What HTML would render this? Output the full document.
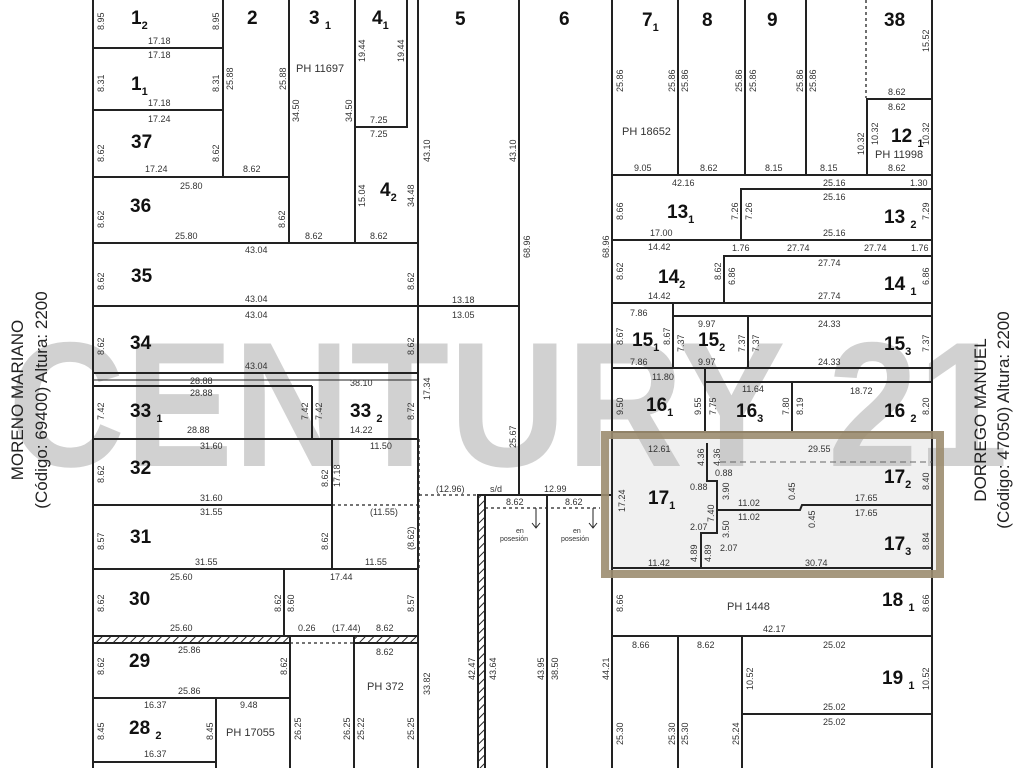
<!DOCTYPE html>
<html><head><meta charset="utf-8"><style>
html,body{margin:0;padding:0;background:#fff;}
svg{display:block;}
.d{font:9px "Liberation Sans",sans-serif;fill:#333;}
.n{font:bold 19px "Liberation Sans",sans-serif;fill:#111;}
.s{font-size:11px;}
.p{font:11px "Liberation Sans",sans-serif;fill:#333;}
line,polyline,rect{stroke:#222;stroke-width:2;fill:none;}
.dt{stroke-dasharray:3 3;stroke-width:1.3;}
</style></head><body>
<svg width="1024" height="768" viewBox="0 0 1024 768" xmlns="http://www.w3.org/2000/svg">
<defs><pattern id="h" width="6" height="6" patternUnits="userSpaceOnUse" patternTransform="rotate(45)"><rect width="6" height="6" style="fill:#fff;stroke:none"/><line x1="0" y1="0" x2="0" y2="6" stroke="#222" stroke-width="2"/></pattern></defs>
<rect x="0" y="0" width="1024" height="768" style="fill:#fff;stroke:none"/>
<!-- highlight fill -->
<rect x="606" y="436" width="334" height="137" style="fill:#f0f0f0;stroke:none"/>
<!-- watermark -->
<text x="8" y="466" textLength="1000" lengthAdjust="spacingAndGlyphs" style="font:bold 178px 'Liberation Sans',sans-serif;fill:#b4b4b4;opacity:0.6">CENTURY 21</text>
<!-- LEFT BLOCK -->
<line x1="93" y1="0" x2="93" y2="768"/>
<line x1="418" y1="0" x2="418" y2="768"/>
<line x1="93" y1="48" x2="223" y2="48"/>
<line x1="93" y1="110" x2="223" y2="110"/>
<line x1="93" y1="177" x2="289" y2="177"/>
<line x1="223" y1="0" x2="223" y2="177"/>
<line x1="289" y1="0" x2="289" y2="243"/>
<line x1="355" y1="0" x2="355" y2="243"/>
<polyline points="355,127 407,127 407,0"/>
<line x1="93" y1="243" x2="418" y2="243"/>
<line x1="93" y1="306" x2="519" y2="306"/>
<line x1="93" y1="373" x2="418" y2="373"/>
<line x1="93" y1="380" x2="418" y2="380" style="stroke-width:1"/>
<line x1="93" y1="386" x2="312" y2="386"/>
<line x1="312" y1="386" x2="312" y2="439"/>
<line x1="93" y1="439" x2="418" y2="439"/>
<line x1="332" y1="439" x2="332" y2="569"/>
<line x1="93" y1="505" x2="332" y2="505"/>
<line class="dt" x1="332" y1="505" x2="418" y2="505"/>
<line class="dt" x1="419" y1="439" x2="419" y2="569"/>
<line class="dt" x1="419" y1="495" x2="478" y2="495"/>
<line x1="93" y1="569" x2="418" y2="569"/>
<line x1="284" y1="569" x2="284" y2="636"/>
<line x1="93" y1="636" x2="418" y2="636"/>
<rect x="93" y="636" width="197" height="7" style="fill:url(#h)"/>
<rect x="354" y="636" width="64" height="7" style="fill:url(#h)"/>
<line class="dt" x1="290" y1="643" x2="354" y2="643"/>
<line x1="290" y1="636" x2="290" y2="768"/>
<line x1="354" y1="636" x2="354" y2="768"/>
<line x1="93" y1="698" x2="290" y2="698"/>
<line x1="216" y1="698" x2="216" y2="768"/>
<line x1="93" y1="762" x2="216" y2="762"/>
<!-- MIDDLE -->
<line x1="519" y1="0" x2="519" y2="495"/>
<line x1="478" y1="495" x2="612" y2="495"/>
<rect x="478" y="495" width="7" height="280" style="fill:url(#h)"/>
<line x1="547" y1="495" x2="547" y2="768"/>
<line class="dt" x1="485" y1="508" x2="600" y2="508"/>
<line x1="536" y1="508" x2="536" y2="528" style="stroke-width:1"/><polyline points="532,523 536,528 540,523" style="stroke-width:1"/>
<line x1="593" y1="508" x2="593" y2="528" style="stroke-width:1"/><polyline points="589,523 593,528 597,523" style="stroke-width:1"/>
<!-- RIGHT BLOCK -->
<line x1="612" y1="0" x2="612" y2="768"/>
<line x1="932" y1="0" x2="932" y2="768"/>
<line x1="678" y1="0" x2="678" y2="175"/>
<line x1="745" y1="0" x2="745" y2="175"/>
<line x1="806" y1="0" x2="806" y2="175"/>
<line class="dt" x1="866" y1="0" x2="866" y2="98"/>
<polyline points="867,175 867,99 932,99"/>
<line x1="612" y1="175" x2="932" y2="175"/>
<polyline points="741,240 741,189 932,189"/>
<line x1="612" y1="240" x2="932" y2="240"/>
<polyline points="724,303 724,256 932,256"/>
<line x1="612" y1="303" x2="932" y2="303"/>
<line x1="673" y1="303" x2="673" y2="368"/>
<line x1="673" y1="316" x2="932" y2="316"/>
<line x1="748" y1="316" x2="748" y2="368"/>
<line x1="612" y1="368" x2="932" y2="368"/>
<line x1="705" y1="368" x2="705" y2="432"/>
<line x1="705" y1="382" x2="932" y2="382"/>
<line x1="792" y1="382" x2="792" y2="432"/>
<line x1="612" y1="432" x2="932" y2="432"/>
<line x1="720" y1="462" x2="932" y2="462" style="stroke-dasharray:6 4;stroke-width:1;stroke:#666"/>
<polyline points="707,443 707,481 717,481 717,533 701,533 701,568"/>
<polyline points="717,510 800,510 802,505 932,505"/>
<line x1="612" y1="568" x2="932" y2="568"/>
<line x1="612" y1="636" x2="932" y2="636"/>
<line x1="678" y1="636" x2="678" y2="768"/>
<line x1="742" y1="636" x2="742" y2="768"/>
<polyline points="742,714 932,714"/>
<!-- highlight frame -->
<rect x="605" y="435" width="335" height="139" style="stroke:#9c8d70;stroke-width:8;opacity:0.9"/>
<!-- lot numbers -->
<g class="n">
<text x="131" y="24">1<tspan class="s" dy="5">2</tspan></text>
<text x="131" y="90">1<tspan class="s" dy="5">1</tspan></text>
<text x="131" y="148">37</text>
<text x="130" y="212">36</text>
<text x="131" y="282">35</text>
<text x="130" y="349">34</text>
<text x="130" y="417">33 <tspan class="s" dy="5">1</tspan></text>
<text x="350" y="417">33 <tspan class="s" dy="5">2</tspan></text>
<text x="130" y="474">32</text>
<text x="130" y="543">31</text>
<text x="129" y="605">30</text>
<text x="129" y="667">29</text>
<text x="129" y="734">28 <tspan class="s" dy="5">2</tspan></text>
<text x="247" y="24">2</text>
<text x="309" y="24">3 <tspan class="s" dy="5">1</tspan></text>
<text x="372" y="24">4<tspan class="s" dy="5">1</tspan></text>
<text x="380" y="196">4<tspan class="s" dy="5">2</tspan></text>
<text x="455" y="25">5</text>
<text x="559" y="25">6</text>
<text x="642" y="26">7<tspan class="s" dy="5">1</tspan></text>
<text x="702" y="26">8</text>
<text x="767" y="26">9</text>
<text x="884" y="26">38</text>
<text x="891" y="142">12 <tspan class="s" dy="5">1</tspan></text>
<text x="667" y="218">13<tspan class="s" dy="5">1</tspan></text>
<text x="884" y="223">13 <tspan class="s" dy="5">2</tspan></text>
<text x="658" y="283">14<tspan class="s" dy="5">2</tspan></text>
<text x="884" y="290">14 <tspan class="s" dy="5">1</tspan></text>
<text x="632" y="346">15<tspan class="s" dy="5">1</tspan></text>
<text x="698" y="346">15<tspan class="s" dy="5">2</tspan></text>
<text x="884" y="350">15<tspan class="s" dy="5">3</tspan></text>
<text x="646" y="411">16<tspan class="s" dy="5">1</tspan></text>
<text x="736" y="417">16<tspan class="s" dy="5">3</tspan></text>
<text x="884" y="417">16 <tspan class="s" dy="5">2</tspan></text>
<text x="648" y="504">17<tspan class="s" dy="5">1</tspan></text>
<text x="884" y="483">17<tspan class="s" dy="5">2</tspan></text>
<text x="884" y="550">17<tspan class="s" dy="5">3</tspan></text>
<text x="882" y="606">18 <tspan class="s" dy="5">1</tspan></text>
<text x="882" y="684">19 <tspan class="s" dy="5">1</tspan></text>
</g>
<g class="p">
<text x="296" y="72">PH 11697</text>
<text x="622" y="135">PH 18652</text>
<text x="875" y="158">PH 11998</text>
<text x="727" y="610">PH 1448</text>
<text x="367" y="690">PH 372</text>
<text x="226" y="736">PH 17055</text>
</g>
<g class="d">
<text x="148" y="44">17.18</text><text x="148" y="58">17.18</text>
<text x="148" y="106">17.18</text><text x="148" y="122">17.24</text>
<text x="145" y="172">17.24</text><text x="243" y="172">8.62</text>
<text x="180" y="189">25.80</text><text x="175" y="239">25.80</text>
<text x="305" y="239">8.62</text><text x="370" y="239">8.62</text>
<text x="370" y="123">7.25</text><text x="370" y="137">7.25</text>
<text x="245" y="253">43.04</text><text x="245" y="302">43.04</text>
<text x="245" y="318">43.04</text><text x="245" y="369">43.04</text>
<text x="190" y="384">28.88</text><text x="350" y="386">38.10</text>
<text x="190" y="396">28.88</text><text x="187" y="433">28.88</text>
<text x="350" y="433">14.22</text><text x="200" y="449">31.60</text>
<text x="370" y="449">11.50</text><text x="200" y="501">31.60</text>
<text x="200" y="515">31.55</text><text x="370" y="515">(11.55)</text>
<text x="195" y="565">31.55</text><text x="365" y="565">11.55</text>
<text x="170" y="580">25.60</text><text x="330" y="580">17.44</text>
<text x="170" y="631">25.60</text><text x="298" y="631">0.26</text><text x="332" y="631">(17.44)</text><text x="376" y="631">8.62</text>
<text x="178" y="653">25.86</text><text x="376" y="655">8.62</text>
<text x="178" y="694">25.86</text><text x="144" y="708">16.37</text><text x="240" y="708">9.48</text>
<text x="144" y="757">16.37</text>
<text x="452" y="303">13.18</text><text x="452" y="318">13.05</text>
<text x="436" y="492">(12.96)</text><text x="490" y="492">s/d</text><text x="544" y="492">12.99</text>
<text x="506" y="505">8.62</text><text x="565" y="505">8.62</text>
<text x="516" y="533" style="font-size:7px">en</text><text x="500" y="541" style="font-size:7px">posesión</text>
<text x="573" y="533" style="font-size:7px">en</text><text x="561" y="541" style="font-size:7px">posesión</text>
<text x="634" y="171">9.05</text><text x="700" y="171">8.62</text><text x="765" y="171">8.15</text><text x="820" y="171">8.15</text><text x="888" y="171">8.62</text>
<text x="888" y="95">8.62</text><text x="888" y="110">8.62</text>
<text x="672" y="186">42.16</text><text x="823" y="186">25.16</text><text x="910" y="186">1.30</text>
<text x="823" y="200">25.16</text><text x="823" y="236">25.16</text><text x="650" y="236">17.00</text>
<text x="648" y="250">14.42</text><text x="732" y="251">1.76</text><text x="787" y="251">27.74</text><text x="864" y="251">27.74</text><text x="911" y="251">1.76</text>
<text x="818" y="266">27.74</text><text x="818" y="299">27.74</text><text x="648" y="299">14.42</text>
<text x="630" y="316">7.86</text><text x="698" y="327">9.97</text><text x="818" y="327">24.33</text>
<text x="630" y="365">7.86</text><text x="698" y="365">9.97</text><text x="818" y="365">24.33</text>
<text x="652" y="380">11.80</text><text x="742" y="392">11.64</text><text x="850" y="394">18.72</text>
<text x="648" y="452">12.61</text><text x="808" y="452">29.55</text>
<text x="715" y="476">0.88</text><text x="690" y="490">0.88</text>
<text x="738" y="506">11.02</text><text x="738" y="520">11.02</text>
<text x="855" y="501">17.65</text><text x="855" y="516">17.65</text>
<text x="690" y="530">2.07</text><text x="720" y="551">2.07</text>
<text x="648" y="566">11.42</text><text x="805" y="566">30.74</text>
<text x="763" y="632">42.17</text><text x="632" y="648">8.66</text><text x="697" y="648">8.62</text><text x="823" y="648">25.02</text>
<text x="823" y="710">25.02</text><text x="823" y="725">25.02</text>
</g>
<!-- vertical dims -->
<g class="d">
<text transform="translate(104,30) rotate(-90)">8.95</text>
<text transform="translate(219,30) rotate(-90)">8.95</text>
<text transform="translate(104,92) rotate(-90)">8.31</text>
<text transform="translate(219,92) rotate(-90)">8.31</text>
<text transform="translate(104,162) rotate(-90)">8.62</text>
<text transform="translate(219,162) rotate(-90)">8.62</text>
<text transform="translate(233,90) rotate(-90)">25.88</text>
<text transform="translate(286,90) rotate(-90)">25.88</text>
<text transform="translate(299,122) rotate(-90)">34.50</text>
<text transform="translate(352,122) rotate(-90)">34.50</text>
<text transform="translate(365,62) rotate(-90)">19.44</text>
<text transform="translate(404,62) rotate(-90)">19.44</text>
<text transform="translate(365,207) rotate(-90)">15.04</text>
<text transform="translate(414,207) rotate(-90)">34.48</text>
<text transform="translate(430,162) rotate(-90)">43.10</text>
<text transform="translate(516,162) rotate(-90)">43.10</text>
<text transform="translate(530,258) rotate(-90)">68.96</text>
<text transform="translate(609,258) rotate(-90)">68.96</text>
<text transform="translate(516,448) rotate(-90)">25.67</text>
<text transform="translate(104,228) rotate(-90)">8.62</text>
<text transform="translate(285,228) rotate(-90)">8.62</text>
<text transform="translate(104,290) rotate(-90)">8.62</text>
<text transform="translate(414,290) rotate(-90)">8.62</text>
<text transform="translate(104,355) rotate(-90)">8.62</text>
<text transform="translate(414,355) rotate(-90)">8.62</text>
<text transform="translate(104,420) rotate(-90)">7.42</text>
<text transform="translate(308,420) rotate(-90)">7.42</text>
<text transform="translate(322,420) rotate(-90)">7.42</text>
<text transform="translate(414,420) rotate(-90)">8.72</text>
<text transform="translate(430,400) rotate(-90)">17.34</text>
<text transform="translate(104,483) rotate(-90)">8.62</text>
<text transform="translate(328,487) rotate(-90)">8.62</text>
<text transform="translate(340,487) rotate(-90)">17.18</text>
<text transform="translate(104,550) rotate(-90)">8.57</text>
<text transform="translate(328,550) rotate(-90)">8.62</text>
<text transform="translate(414,550) rotate(-90)">(8.62)</text>
<text transform="translate(104,612) rotate(-90)">8.62</text>
<text transform="translate(281,612) rotate(-90)">8.62</text>
<text transform="translate(294,612) rotate(-90)">8.60</text>
<text transform="translate(414,612) rotate(-90)">8.57</text>
<text transform="translate(104,675) rotate(-90)">8.62</text>
<text transform="translate(287,675) rotate(-90)">8.62</text>
<text transform="translate(104,740) rotate(-90)">8.45</text>
<text transform="translate(213,740) rotate(-90)">8.45</text>
<text transform="translate(301,740) rotate(-90)">26.25</text>
<text transform="translate(350,740) rotate(-90)">26.25</text>
<text transform="translate(364,740) rotate(-90)">25.22</text>
<text transform="translate(414,740) rotate(-90)">25.25</text>
<text transform="translate(430,695) rotate(-90)">33.82</text>
<text transform="translate(475,680) rotate(-90)">42.47</text>
<text transform="translate(496,680) rotate(-90)">43.64</text>
<text transform="translate(544,680) rotate(-90)">43.95</text>
<text transform="translate(558,680) rotate(-90)">38.50</text>
<text transform="translate(609,680) rotate(-90)">44.21</text>
<text transform="translate(623,92) rotate(-90)">25.86</text>
<text transform="translate(675,92) rotate(-90)">25.86</text>
<text transform="translate(688,92) rotate(-90)">25.86</text>
<text transform="translate(742,92) rotate(-90)">25.86</text>
<text transform="translate(756,92) rotate(-90)">25.86</text>
<text transform="translate(803,92) rotate(-90)">25.86</text>
<text transform="translate(816,92) rotate(-90)">25.86</text>
<text transform="translate(929,52) rotate(-90)">15.52</text>
<text transform="translate(878,145) rotate(-90)">10.32</text>
<text transform="translate(929,145) rotate(-90)">10.32</text>
<text transform="translate(864,155) rotate(-90)">10.32</text>
<text transform="translate(623,220) rotate(-90)">8.66</text>
<text transform="translate(738,220) rotate(-90)">7.26</text>
<text transform="translate(752,220) rotate(-90)">7.26</text>
<text transform="translate(929,220) rotate(-90)">7.29</text>
<text transform="translate(623,280) rotate(-90)">8.62</text>
<text transform="translate(721,280) rotate(-90)">8.62</text>
<text transform="translate(735,285) rotate(-90)">6.86</text>
<text transform="translate(929,285) rotate(-90)">6.86</text>
<text transform="translate(623,345) rotate(-90)">8.67</text>
<text transform="translate(670,345) rotate(-90)">8.67</text>
<text transform="translate(684,352) rotate(-90)">7.37</text>
<text transform="translate(745,352) rotate(-90)">7.37</text>
<text transform="translate(759,352) rotate(-90)">7.37</text>
<text transform="translate(929,352) rotate(-90)">7.37</text>
<text transform="translate(623,415) rotate(-90)">9.50</text>
<text transform="translate(701,415) rotate(-90)">9.55</text>
<text transform="translate(716,415) rotate(-90)">7.75</text>
<text transform="translate(789,415) rotate(-90)">7.80</text>
<text transform="translate(803,415) rotate(-90)">8.19</text>
<text transform="translate(929,415) rotate(-90)">8.20</text>
<text transform="translate(625,512) rotate(-90)">17.24</text>
<text transform="translate(704,466) rotate(-90)">4.36</text>
<text transform="translate(720,466) rotate(-90)">4.36</text>
<text transform="translate(729,500) rotate(-90)">3.90</text>
<text transform="translate(714,522) rotate(-90)">7.40</text>
<text transform="translate(729,538) rotate(-90)">3.50</text>
<text transform="translate(697,562) rotate(-90)">4.89</text>
<text transform="translate(711,562) rotate(-90)">4.89</text>
<text transform="translate(795,500) rotate(-90)">0.45</text>
<text transform="translate(815,528) rotate(-90)">0.45</text>
<text transform="translate(929,490) rotate(-90)">8.40</text>
<text transform="translate(929,550) rotate(-90)">8.84</text>
<text transform="translate(623,612) rotate(-90)">8.66</text>
<text transform="translate(929,612) rotate(-90)">8.66</text>
<text transform="translate(753,690) rotate(-90)">10.52</text>
<text transform="translate(929,690) rotate(-90)">10.52</text>
<text transform="translate(623,745) rotate(-90)">25.30</text>
<text transform="translate(675,745) rotate(-90)">25.30</text>
<text transform="translate(688,745) rotate(-90)">25.30</text>
<text transform="translate(739,745) rotate(-90)">25.24</text>
</g>
<!-- street names -->
<g style="font:17px 'Liberation Sans','Noto Sans CJK JP',sans-serif;fill:#222" text-anchor="middle">
<text transform="translate(23,400) rotate(-90)">MORENO MARIANO</text>
<text transform="translate(47,400) rotate(-90)">(Código: 69400) Altura: 2200</text>
<text transform="translate(986,420) rotate(-90)">DORREGO MANUEL</text>
<text transform="translate(1009,420) rotate(-90)">(Código: 47050) Altura: 2200</text>
</g>
</svg>
</body></html>
